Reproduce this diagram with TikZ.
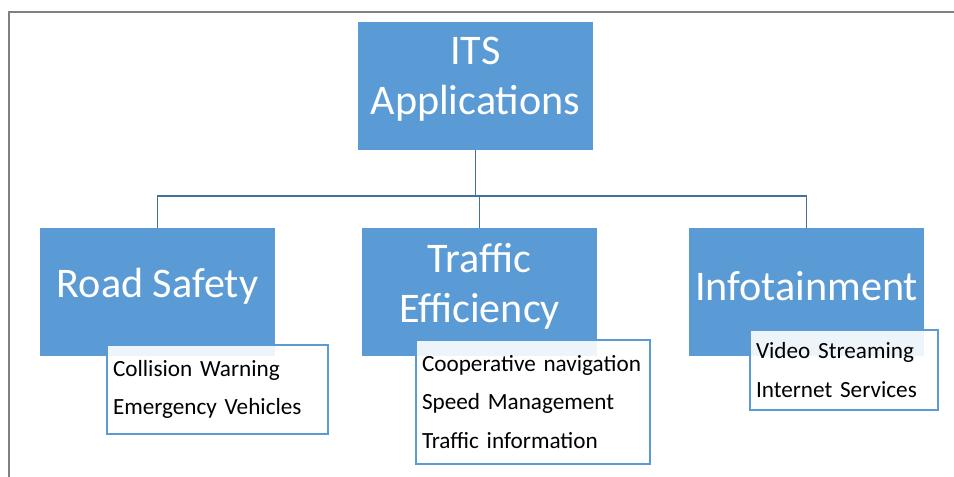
\documentclass[tikz,border=0pt]{standalone}
\usepackage{fontspec}
\setmainfont{Carlito}
\usetikzlibrary{positioning}
\definecolor{itsblue}{HTML}{5B9BD5}
\definecolor{linkblue}{HTML}{41719C}
\tikzset{
  topic/.style={fill=itsblue, minimum width=4.7cm, minimum height=2.56cm, inner sep=0pt},
  topictext/.style={text=white, align=center, inner sep=0pt, yshift=0.13cm,
                    font=\fontsize{24}{28.5}\selectfont},
  detail/.style={draw=itsblue, thick, fill=white, fill opacity=0.9, text opacity=1, align=left,
                 inner xsep=0.12cm, inner ysep=2pt, font=\fontsize{13.2}{21.7}\selectfont},
  link/.style={draw=linkblue, thick}
}
\begin{document}
\begin{tikzpicture}
\useasboundingbox (0,0) rectangle (19.08,9.54);
\draw[gray, very thick] (0.18,0) -- (0.18,9.3) -- (19.08,9.3);

\node[topic, label={[topictext]center:ITS\\Applications}] (its) at (9.51,7.82) {};
\node[topic, label={[topictext]center:Road Safety}] (road) at (3.15,3.69) {};
\node[topic, label={[topictext]center:Traffic\\Efficiency}] (traffic) at (9.59,3.69) {};
\node[topic, label={[topictext]center:Infotainment}] (info) at (16.13,3.69) {};

\coordinate (bus) at (9.51,5.62);
\path[link] (its.south) -- (bus);
\path[link] (road.north) |- (bus) -| (info.north);
\path[link] (bus) -| (traffic.north);

\node[detail, text width=4.18cm, minimum height=1.78cm] (roadlist) at (4.35,1.75)
     {Collision Warning\\Emergency Vehicles};
\node[detail, text width=4.44cm, minimum height=2.48cm] (trafficlist) at (10.66,1.5)
     {Cooperative navigation\\Speed Management\\Traffic information};
\node[detail, text width=3.52cm, minimum height=1.6cm] (infolist) at (16.88,2.14)
     {Video Streaming\\Internet Services};
\end{tikzpicture}
\end{document}
